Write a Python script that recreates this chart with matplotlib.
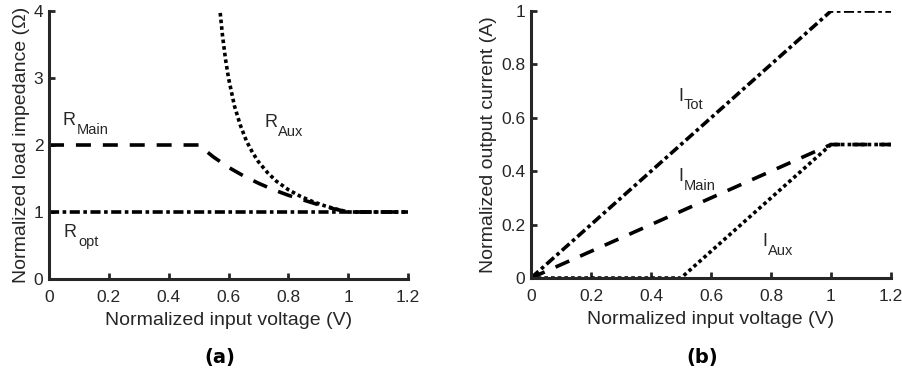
import matplotlib
matplotlib.use("Agg")
import matplotlib.pyplot as plt

# (a) normalized load impedance vs input voltage
v_opt = [0.0, 1.2]
r_opt = [1.0, 1.0]

v_main = [0.0, 0.5, 0.55, 0.6, 0.65, 0.7, 0.75, 0.8, 0.85, 0.9, 0.95, 1.0, 1.2]
r_main = [2.0, 2.0, 1.82, 1.667, 1.54, 1.43, 1.333, 1.25, 1.18, 1.11, 1.05, 1.0, 1.0]

v_aux = [0.57, 0.58, 0.59, 0.6, 0.62, 0.64, 0.66, 0.68, 0.7, 0.73, 0.76, 0.8,
         0.84, 0.88, 0.92, 0.96, 1.0, 1.2]
r_aux = [4.07, 3.63, 3.28, 3.0, 2.58, 2.29, 2.06, 1.89, 1.75, 1.59, 1.46, 1.333,
         1.235, 1.158, 1.095, 1.043, 1.0, 1.0]

# (b) normalized output currents
v_cur = [0.0, 0.5, 1.0, 1.2]
i_tot = [0.0, 0.5, 1.0, 1.0]
i_main = [0.0, 0.25, 0.5, 0.5]
i_aux = [0.0, 0.0, 0.5, 0.5]

xticks = [0, 0.2, 0.4, 0.6, 0.8, 1, 1.2]
xticklabels = ["0", "0.2", "0.4", "0.6", "0.8", "1", "1.2"]

plt.rcParams["font.family"] = ["Liberation Sans", "DejaVu Sans"]

DARK = "#262626"
LW = 2.6
DASH = (0, (4.15, 3.3))
DASHDOT = (0, (2.8, 0.97, 1.0, 0.97))
DOT = (0, (1.0, 0.85))

fig = plt.figure(figsize=(9.03, 3.83), dpi=100)
ax1 = fig.add_axes([0.0543, 0.2715, 0.3975, 0.6998])
ax2 = fig.add_axes([0.588, 0.2741, 0.3987, 0.6971])


def style(ax):
    for s in ["top", "right"]:
        ax.spines[s].set_visible(False)
    for s in ["left", "bottom"]:
        ax.spines[s].set_linewidth(2.2)
        ax.spines[s].set_color(DARK)
    ax.tick_params(direction="in", length=4, width=2, colors=DARK,
                   labelsize=12.5)
    ax.tick_params(axis="x", pad=8)
    ax.tick_params(axis="y", pad=4)
    ax.set_xlim(0, 1.2)
    ax.set_xticks(xticks)
    ax.set_xticklabels(xticklabels)
    ax.set_xlabel("Normalized input voltage (V)", fontsize=14, color=DARK,
                  labelpad=5)


def line(ax, x, y, ls):
    ax.plot(x, y, color="black", lw=LW, linestyle=ls, dash_capstyle="butt")


def label(ax, x, y, main, sub, dx):
    ax.text(x, y, main, fontsize=13, color=DARK, va="center", ha="left")
    ax.annotate(sub, (x, y), xytext=(dx, -6.5), textcoords="offset points",
                fontsize=10.5, color=DARK, va="center", ha="left")


line(ax1, v_opt, r_opt, DASHDOT)
line(ax1, v_main, r_main, DASH)
line(ax1, v_aux, r_aux, DOT)
style(ax1)
ax1.set_ylim(0, 4)
ax1.set_yticks([0, 1, 2, 3, 4])
ax1.set_ylabel("Normalized load impedance (\u03a9)", fontsize=14, color=DARK,
               labelpad=3)
label(ax1, 0.045, 2.36, "R", "Main", 10)
label(ax1, 0.72, 2.33, "R", "Aux", 10)
label(ax1, 0.05, 0.69, "R", "opt", 10)

line(ax2, v_cur, i_tot, DASHDOT)
line(ax2, v_cur, i_main, DASH)
line(ax2, v_cur, i_aux, DOT)
style(ax2)
ax2.set_ylim(0, 1)
ax2.set_yticks([0, 0.2, 0.4, 0.6, 0.8, 1])
ax2.set_yticklabels(["0", "0.2", "0.4", "0.6", "0.8", "1"])
ax2.set_ylabel("Normalized output current (A)", fontsize=14, color=DARK,
               labelpad=3)
label(ax2, 0.49, 0.68, "I", "Tot", 4)
label(ax2, 0.49, 0.38, "I", "Main", 4)
label(ax2, 0.77, 0.135, "I", "Aux", 4)

fig.text(220 / 903, 1 - 357 / 383, "(a)", fontsize=14, fontweight="bold",
         family="DejaVu Sans", ha="center", va="center")
fig.text(702 / 903, 1 - 357 / 383, "(b)", fontsize=14, fontweight="bold",
         family="DejaVu Sans", ha="center", va="center")

fig.savefig("out.png", dpi=100)
